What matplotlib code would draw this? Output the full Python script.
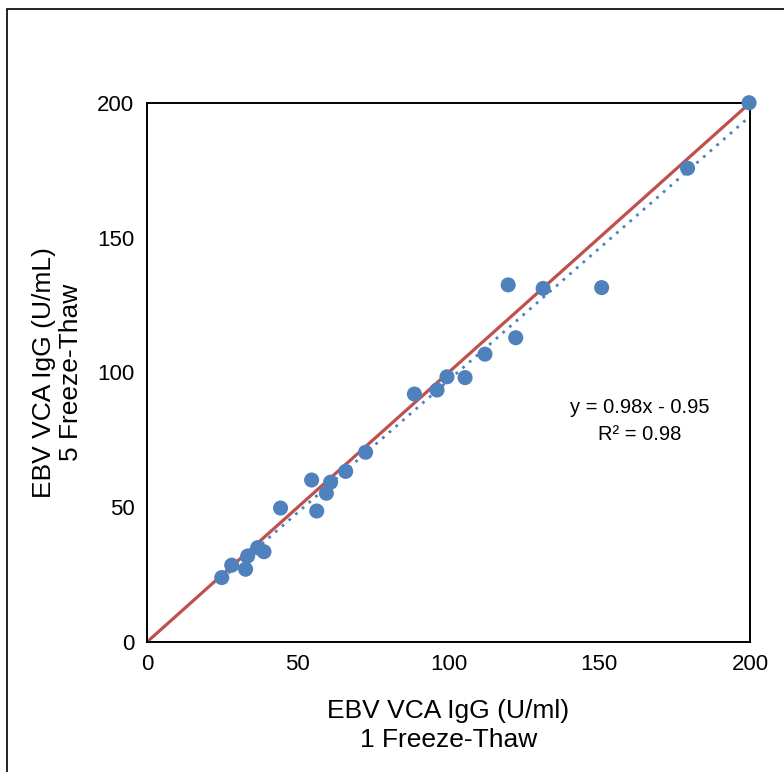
import numpy as np
import matplotlib
matplotlib.use("Agg")
import matplotlib.pyplot as plt
from matplotlib.patches import Rectangle

plt.rcParams['font.family'] = ['Liberation Sans', 'DejaVu Sans']

# EBV VCA IgG (U/ml), 1 freeze-thaw vs 5 freeze-thaw
x_one_ft = [24.8, 28.1, 32.7, 33.4, 36.7, 38.8, 44.3, 54.6, 56.3, 59.5, 60.9, 65.9,
            72.5, 88.7, 96.2, 99.5, 105.5, 112.1, 119.8, 122.3, 131.4, 150.8, 179.3, 199.7]
y_five_ft = [23.9, 28.5, 27.0, 31.9, 35.0, 33.5, 49.7, 60.1, 48.6, 55.2, 59.3, 63.3,
             70.4, 92.0, 93.5, 98.4, 98.1, 106.8, 132.5, 112.9, 131.2, 131.5, 175.8, 200.1]
slope = 0.98
intercept = -0.95
r_squared = 0.98
axis_ticks = [0, 50, 100, 150, 200]

blue = "#4F81BD"
red = "#C0504D"

fig = plt.figure(figsize=(7.84, 7.72), dpi=100)
ax = fig.add_axes([0.1875, 0.1684, 0.7691, 0.6982])

# line of identity
ax.plot([0, 200], [0, 200], color=red, lw=2.3, zorder=2, solid_capstyle="butt")

# linear trendline
xs = np.array([min(x_one_ft), max(x_one_ft)])
ax.plot(xs, slope * xs + intercept, color=blue, lw=2.0, ls=(0, (1, 2.2)), zorder=2)

ax.scatter(x_one_ft, y_five_ft, s=118, color=blue, edgecolors="none", zorder=3, clip_on=False)

ax.set_xlim(0, 200)
ax.set_ylim(0, 200)
ax.set_xticks(axis_ticks)
ax.set_yticks(axis_ticks)
ax.tick_params(length=0, labelsize=16, pad=9)
for sp in ax.spines.values():
    sp.set_linewidth(1.4)
    sp.set_color("black")

ax.set_xlabel("EBV VCA IgG (U/ml)\n1 Freeze-Thaw", fontsize=19, labelpad=17, linespacing=1.25)
ax.set_ylabel("EBV VCA IgG (U/mL)\n5 Freeze-Thaw", fontsize=19, labelpad=10, linespacing=1.2)

ax.text(163.5, 82, "y = 0.98x - 0.95\nR² = {:.2f}".format(r_squared), fontsize=14.5,
        ha="center", va="center", linespacing=1.5)

# outer chart border
fig.patches.append(Rectangle((7 / 784, -0.05), 1.2, 1 - 8.5 / 772 + 0.05,
                             transform=fig.transFigure, fill=False, ec="black", lw=1.2))

fig.savefig("out.png", dpi=100)
